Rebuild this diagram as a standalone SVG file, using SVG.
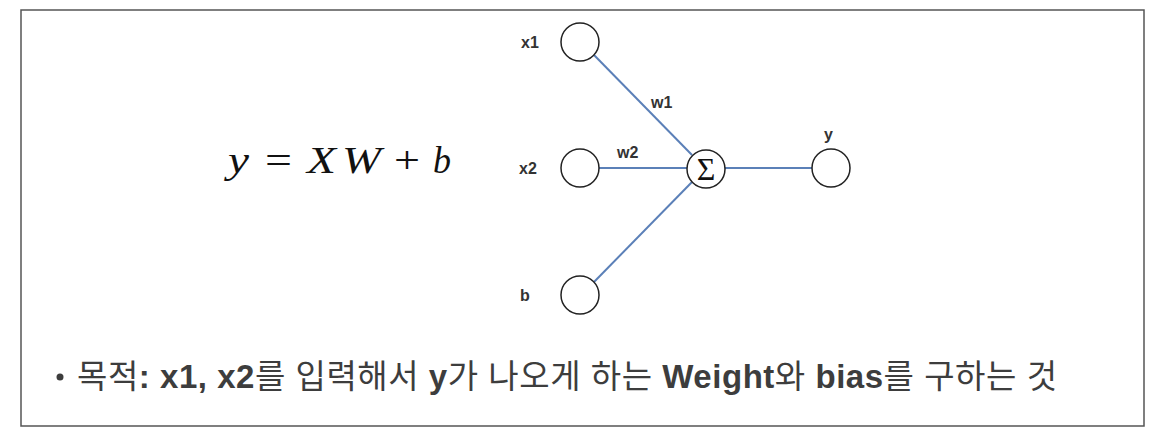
<svg xmlns="http://www.w3.org/2000/svg" width="1161" height="446" viewBox="0 0 1161 446">
<style>
.lbl{font-family:"Liberation Sans",Arial,sans-serif;font-weight:bold;font-size:16px;fill:#333}
.node{fill:#fff;stroke:#222;stroke-width:1.5}
.edge{stroke:#5b80b8;stroke-width:2;fill:none}
.eq{font-family:"Liberation Serif","Times New Roman",serif;font-size:37px;fill:#111}
.it{font-style:italic}
.body{font-family:"Liberation Sans","Noto Sans CJK KR",sans-serif;font-size:33px;fill:#3d3d3d}
</style>
<rect x="0" y="0" width="1161" height="446" fill="#fff"/>
<rect x="21" y="10" width="1123" height="416" fill="#fff" stroke="#555" stroke-width="1.5"/>
<g id="equation">
<text class="eq it" x="228" y="173" textLength="21" lengthAdjust="spacingAndGlyphs">y</text>
<text class="eq" x="265" y="173" textLength="27" lengthAdjust="spacingAndGlyphs">=</text>
<text class="eq it" x="307" y="173" textLength="29" lengthAdjust="spacingAndGlyphs">X</text>
<text class="eq it" x="342" y="173" textLength="39" lengthAdjust="spacingAndGlyphs">W</text>
<text class="eq" x="394" y="173" textLength="26" lengthAdjust="spacingAndGlyphs">+</text>
<text class="eq it" x="433" y="173" textLength="18" lengthAdjust="spacingAndGlyphs">b</text>
</g>
<g id="connectors">
<line class="edge" x1="594" y1="55" x2="692" y2="155"/>
<line class="edge" x1="599" y1="168" x2="687" y2="168"/>
<line class="edge" x1="594" y1="282" x2="692" y2="182"/>
<line class="edge" x1="725" y1="168" x2="812" y2="168"/>
<text class="lbl" x="651" y="108">w1</text>
<text class="lbl" x="617" y="158">w2</text>
</g>
<g id="x1"><circle class="node" cx="580" cy="42" r="19"/><text class="lbl" x="521" y="48">x1</text></g>
<g id="x2"><circle class="node" cx="580" cy="168" r="19"/><text class="lbl" x="519" y="174">x2</text></g>
<g id="b"><circle class="node" cx="580" cy="295" r="19"/><text class="lbl" x="520" y="301">b</text></g>
<g id="sum"><circle class="node" cx="706" cy="169" r="19"/><text x="706" y="180" text-anchor="middle" font-family="Liberation Serif,serif" font-size="32" fill="#111">Σ</text></g>
<g id="y"><circle class="node" cx="831" cy="168" r="19"/><text class="lbl" x="824" y="140">y</text></g>
<g id="goal">
<circle cx="60" cy="377" r="3.5" fill="#3d3d3d"/>
<text class="body" x="77" y="388" textLength="980" lengthAdjust="spacing">목적<tspan font-weight="bold">: x1, x2</tspan>를 입력해서 <tspan font-weight="bold">y</tspan>가 나오게 하는 <tspan font-weight="bold">Weight</tspan>와 <tspan font-weight="bold">bias</tspan>를 구하는 것</text>
</g>
</svg>
